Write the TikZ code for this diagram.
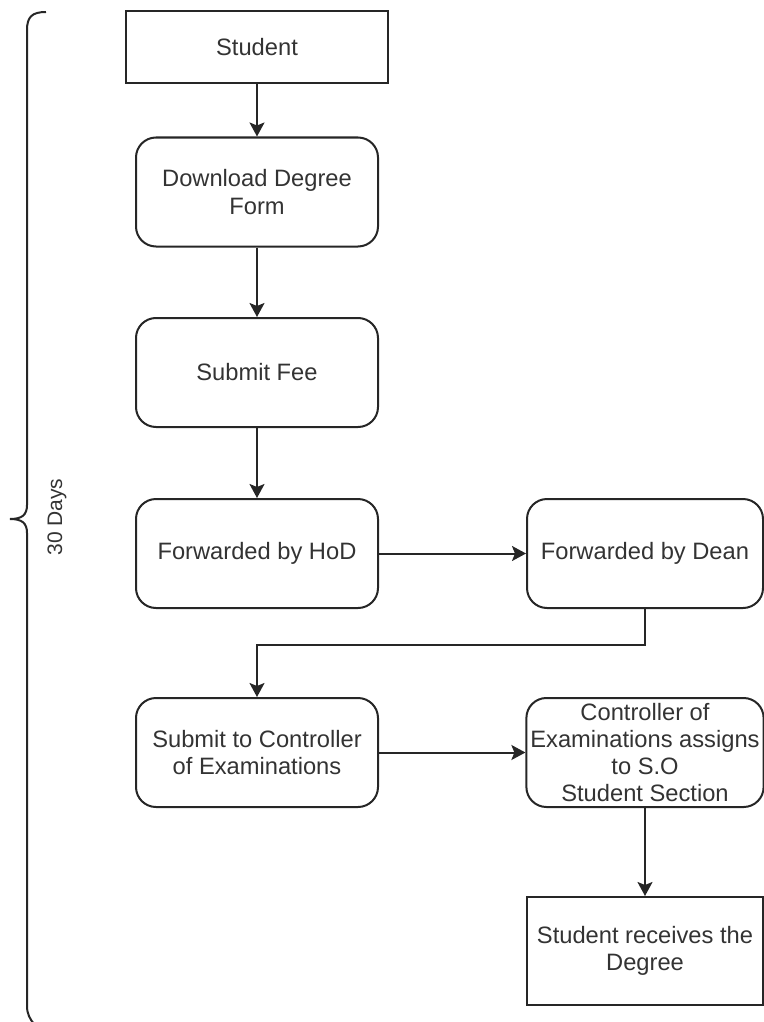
\documentclass[tikz,border=0pt]{standalone}
\usepackage{fontspec}
\setmainfont{Liberation Sans}
\usepackage{xcolor}
\usepackage{tikz}
\usetikzlibrary{positioning,arrows.meta}
\tikzset{
  flow box/.style={draw=black!85, line width=1pt, text=black!80, align=center,
    font=\fontsize{11.85}{13.6}\selectfont, inner sep=2pt,
    minimum width=121pt, minimum height=54.5pt},
  round box/.style={flow box, rounded corners=10pt},
  plain box/.style={flow box},
  flow arrow/.style={draw=black!85, line width=1pt,
    -{Stealth[length=7pt, width=7.5pt, inset=1.5pt]}}
}

\begin{document}
\begin{tikzpicture}[x=0.5pt, y=-0.5pt]
	\useasboundingbox (0,0) rectangle (764,1022);
	% boxes
	\node[plain box, minimum width=131pt, minimum height=36pt] (student) at (257,47) {Student};
	\node[round box] (download) at (257,192) {Download Degree\\Form};
	\node[round box] (fee) at (257,372.5) {Submit Fee};
	\node[round box] (hod) at (257,553.5) {Forwarded by HoD};
	\node[round box, minimum width=118pt] (dean) at (645,553.5) {Forwarded by Dean};
	\node[round box] (submit) at (257,752.5) {Submit to Controller\\of Examinations};
	\node[round box, minimum width=118pt] (assign) at (645,752.5) {Controller of\\Examinations assigns\\to S.O\\Student Section};
	\node[plain box, minimum width=118pt, minimum height=54pt] (receive) at (645,951) {Student receives the\\Degree};
	% arrows
	\draw[flow arrow] (student) -- (download);
	\draw[flow arrow] (download) -- (fee);
	\draw[flow arrow] (fee) -- (hod);
	\draw[flow arrow] (hod) -- (dean);
	\draw[flow arrow] (dean.south) -- ++(0,36) -| (submit.north);
	\draw[flow arrow] (submit) -- (assign);
	\draw[flow arrow] (assign) -- (receive);
	% brace
	\draw[black!85, line width=1pt] (46,12) .. controls (32,12) and (27,17) .. (27,30)
		-- (27,505) .. controls (27,515) and (22,519) .. (10,519)
		.. controls (22,519) and (27,523) .. (27,533)
		-- (27,1006) .. controls (27,1014) and (30,1019) .. (34,1024);
	\node[rotate=90, text=black!80, font=\fontsize{10.5}{12}\selectfont] (days) at (57,517) {30 Days};
\end{tikzpicture}
\end{document}
